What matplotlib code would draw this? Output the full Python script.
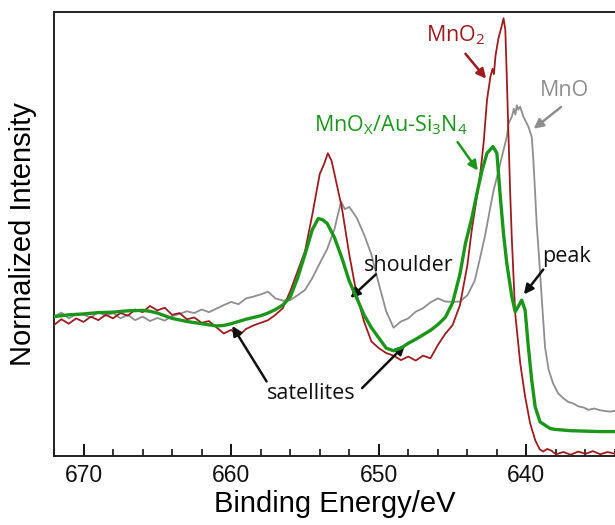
import matplotlib
matplotlib.use("Agg")
import matplotlib.pyplot as plt
from matplotlib.ticker import MultipleLocator

# ---------------- data ----------------
mno_ev = [672, 671.5, 671, 670.5, 670, 669.5, 669, 668.5, 668, 667.5, 667, 666.5, 666,
          665.5, 665, 664.5, 664, 663.5, 663, 662.5, 662, 661.5, 661, 660.5, 660, 659.5,
          659, 658.5, 658, 657.5, 657, 656.5, 656, 655.5, 655, 654.5, 654, 653.5, 653,
          652.8, 652.55, 652.3, 652, 651.5, 651, 650.5, 650, 649.5, 649, 648.5, 648,
          647.5, 647, 646.5, 646, 645.5, 645, 644.5, 644, 643.5, 643.12, 642.78, 642.44,
          642.22, 641.99, 641.77, 641.55, 641.33, 641.21, 640.99, 640.85, 640.75, 640.65,
          640.55, 640.43, 640.2, 639.87, 639.64, 639.53, 639.41, 639.3, 639.15, 638.97,
          638.74, 638.5, 638.2, 637.85, 637.5, 637.17, 636.8, 636.5, 636.1, 635.8, 635.4,
          635, 634.6, 634.3, 634]
mno_int = [31.4, 32.3, 31.0, 32.0, 31.8, 31.2, 32.4, 31.6, 32.2, 31.0, 31.8, 30.6, 31.4,
           30.4, 31.1, 30.5, 31.5, 32.0, 32.6, 32.2, 33.0, 32.4, 33.2, 34.0, 34.7, 34.2,
           35.5, 35.9, 36.4, 37.0, 35.5, 35.0, 35.1, 36.2, 37.4, 40.1, 43.4, 46.6, 51.1,
           54.0, 57.3, 55.6, 56.1, 53.7, 49.9, 45.4, 38.8, 32.6, 28.9, 30.3, 31.0,
           32.5, 33.3, 34.6, 35.5, 34.8, 34.7, 34.8, 36.2, 39.5, 44.9, 50.0, 56.1,
           59.9, 62.9, 65.9, 68.9, 71.9, 74.9, 76.4, 78.2, 76.9, 79.0,
           78.0, 78.7, 76.4, 74.2, 71.9, 66.7, 59.2, 52.0, 45.0, 35.9,
           24.6, 19.5, 16.4, 14.1, 13.0, 12.2, 11.8, 11.2, 10.9, 10.4, 10.7,
           10.3, 10.1, 10.0, 10.2]

mno2_ev = [672, 671.5, 671, 670.5, 670, 669.5, 669, 668.5, 668, 667.5, 667, 666.5, 666,
           665.5, 665, 664.5, 664, 663.5, 663, 662.5, 662, 661.5, 661, 660.5, 660, 659.5,
           659, 658.5, 658, 657.5, 657, 656.5, 656, 655.5, 655, 654.5, 654, 653.7, 653.45,
           653.2, 653, 652.5, 652, 651.5, 651, 650.5, 650, 649.5, 649, 648.5, 648, 647.5,
           647, 646.5, 646, 645.5, 645, 644.5, 644, 643.7, 643.35, 643.1, 642.9, 642.67,
           642.44, 642.3, 642.2, 642.1, 641.9, 641.7, 641.55, 641.43, 641.33, 641.2, 641.1,
           640.99, 640.76, 640.42, 640.09, 639.75, 639.41, 639.1, 638.86, 638.6, 638.3,
           638, 637.5, 637, 636.5, 636, 635.5, 635, 634.5, 634]
mno2_int = [29.5, 30.8, 29.8, 31.0, 30.2, 31.4, 30.6, 31.8, 31.0, 32.2, 31.6, 33.0, 32.4,
            33.8, 32.8, 33.4, 31.8, 32.2, 30.8, 31.2, 30.0, 30.4, 29.0, 27.6, 28.4, 27.0,
            28.6, 29.4, 30.0, 30.6, 31.8, 33.3, 37.1, 41.6, 46.1, 54.4, 63.5, 65.8, 68.2,
            66.5, 63.5, 55.9, 45.4, 36.4, 30.3, 25.8, 24.3, 23.2, 22.6, 21.6, 22.4, 21.5,
            22.6, 22.0, 25.0, 27.5, 29.5, 34.0, 43.0, 51.0, 58.4, 64.4, 70.5, 80.2,
            85.4, 87.2, 86.0, 90.0, 94.0, 96.5, 98.6, 96.0, 85.4, 70.5, 59.2,
            49.0, 32.1, 20.9, 13.4, 7.4, 3.6, 1.5, 1.0, 1.6, 1.2,
            0.4, 0.9, 0.3, 1.0, 0.5, 1.1, 0.4, 0.9, 0.5]

mnox_ev = [672, 671, 670, 669, 668, 667, 666, 665.5, 665, 664.5, 664, 663, 662, 661,
           660.5, 660, 659.5, 659, 658.5, 658, 657.5, 657, 656.5, 656, 655.5, 655, 654.5,
           654.1, 653.8, 653.5, 653, 652.5, 652, 651.5, 651, 650.5, 650, 649.5, 649, 648.5,
           648, 647.5, 647, 646.5, 646, 645.5, 645, 644.5, 644.13, 643.68, 643.35, 643.0,
           642.67, 642.27, 642.0, 641.77, 641.55, 641.33, 640.99, 640.76, 640.5, 640.32,
           640.09, 639.87, 639.64, 639.41, 639.08, 638.4, 638.07, 637, 636, 635, 634]
mnox_int = [31.4, 31.8, 32.0, 32.3, 32.4, 32.7, 32.8, 32.6, 32.2, 31.6, 31.0, 30.3, 29.8,
            29.3, 29.4, 29.8, 30.3, 30.8, 31.2, 31.6, 32.2, 33.0, 34.0, 35.8, 40.1, 45.4,
            51.0, 53.5, 53.2, 52.4, 49.2, 44.6, 39.4, 35.6, 31.8, 28.9, 26.6, 24.3, 23.7,
            24.3, 25.4, 26.3, 27.3, 28.3, 29.6, 31.2, 34.5, 41.0, 47.9, 53.9, 59.2, 64.4,
            68.2, 69.7, 68.2, 58.4, 50.0, 43.4, 35.9, 32.5, 34.0, 35.1,
            32.9, 24.6, 17.1, 11.1, 7.7, 6.2, 6.0, 5.7, 5.6, 5.5, 5.5]

x_major = [670, 660, 650, 640]

# ---------------- styling ----------------
RED = "#9c1c1f"
GRAY = "#8e8e8e"
GREEN = "#1b961b"
AXFONT = "Liberation Sans"
ANFONT = "Open Sans"

plt.rcParams["mathtext.fontset"] = "custom"
plt.rcParams["mathtext.rm"] = ANFONT
plt.rcParams["mathtext.it"] = ANFONT + ":italic"
plt.rcParams["mathtext.bf"] = ANFONT + ":bold"

fig = plt.figure(figsize=(6.15, 5.25), dpi=100)
ax = fig.add_axes([0.0878, 0.1314, 0.9122, 0.8457])

ax.plot(mno_ev, mno_int, color=GRAY, lw=1.3, zorder=2)
ax.plot(mno2_ev, mno2_int, color=RED, lw=1.3, zorder=3)
ax.plot(mnox_ev, mnox_int, color=GREEN, lw=2.4, zorder=4)

ax.set_xlim(672, 634)
ax.set_ylim(0, 100)
ax.set_xticks(x_major)
ax.xaxis.set_minor_locator(MultipleLocator(2))
ax.tick_params(axis="x", which="major", direction="in", length=9, width=1.4,
               labelsize=16.5, pad=6, colors="#111111")
ax.tick_params(axis="x", which="minor", direction="in", length=5, width=1.2,
               colors="#111111")
for lab in ax.get_xticklabels():
    lab.set_fontfamily(AXFONT)
ax.set_yticks([])
ax.spines["right"].set_visible(False)
for s in ("left", "top", "bottom"):
    ax.spines[s].set_linewidth(1.4)
    ax.spines[s].set_color("#222222")

ax.set_xlabel("Binding Energy/eV", fontsize=21, family=AXFONT, labelpad=2)
ax.set_ylabel("Normalized Intensity", fontsize=21, family=AXFONT, labelpad=12)

def note(text, xy, xytext, color, tx, ty, fs=15.5):
    ax.annotate("", xy=xy, xytext=xytext,
                arrowprops=dict(arrowstyle="-|>", color=color, lw=1.8,
                                mutation_scale=14, shrinkA=0, shrinkB=0))
    if text:
        ax.text(tx, ty, text, color=color, fontsize=fs, family=ANFONT,
                ha="center", va="center")

note(r"MnO$_{\mathrm{2}}$", (642.73, 85.0), (644.13, 90.6), RED, 644.78, 94.8)
note("MnO", (639.51, 73.7), (637.66, 78.6), GRAY, 637.39, 82.4)
note(r"MnO$_{\mathrm{X}}$/Au-Si$_{\mathrm{3}}$N$_{\mathrm{4}}$", (643.29, 64.3),
     (644.66, 70.7), GREEN, 649.16, 74.4)
note("shoulder", (651.92, 35.6), (650.2, 40.9), "#111111", 647.96, 42.8)
note("peak", (640.17, 36.4), (638.86, 42.0), "#111111", 637.27, 45.0)
note("satellites", (659.93, 29.3), (657.6, 16.8), "#111111", 654.56, 14.1)
note(None, (648.22, 25.0), (651.13, 15.3), "#111111", 0, 0)

fig.savefig("out.png", dpi=100)
